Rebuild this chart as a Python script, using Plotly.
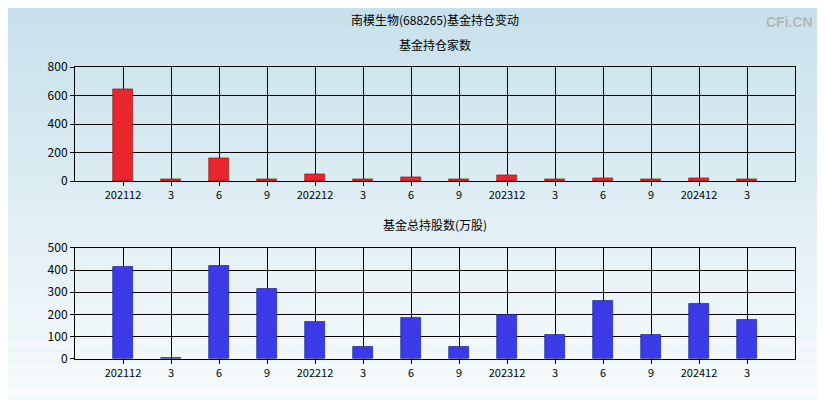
import plotly.graph_objects as go
from plotly.subplots import make_subplots

labels = ["202112", "3", "6", "9", "202212", "3", "6", "9", "202312", "3", "6", "9", "202412", "3"]
holders = [645, 12, 160, 12, 48, 12, 30, 12, 45, 12, 22, 12, 22, 12]
shares = [415, 3, 420, 315, 165, 55, 185, 55, 198, 108, 262, 108, 248, 175]

xs = list(range(1, len(labels) + 1))

fig = make_subplots(rows=2, cols=1)
fig.add_trace(go.Bar(x=xs, y=holders, width=0.42, marker=dict(color="#e8262b", line=dict(color="#7a1010", width=0.6))), row=1, col=1)
fig.add_trace(go.Bar(x=xs, y=shares, width=0.42, marker=dict(color="#3a3ae8", line=dict(color="#15157a", width=0.6))), row=2, col=1)

fig.update_xaxes(range=[0, 15], tickmode="array", tickvals=xs, ticktext=labels, showgrid=True, gridcolor="black",
                 showline=True, linecolor="black", mirror=True, ticks="outside", ticklen=4, tickcolor="black",
                 tickfont=dict(size=11, color="black"), zeroline=False)
fig.update_yaxes(showgrid=True, gridcolor="black", showline=True, linecolor="black", mirror=True,
                 ticks="outside", ticklen=4, tickcolor="black", tickfont=dict(size=12, color="black"), zeroline=False)
fig.update_yaxes(range=[0, 800], dtick=200, domain=[0.574, 0.8715], row=1, col=1)
fig.update_yaxes(range=[0, 500], dtick=100, domain=[0.11, 0.40], row=2, col=1)

# background gradient
shapes = []
n = 40
for i in range(n):
    t = i / (n - 1)
    r = int(196 + (255 - 196) * t)
    g = int(224 + (255 - 224) * t)
    b = int(235 + (255 - 235) * t)
    shapes.append(dict(type="rect", xref="paper", yref="paper", x0=-0.3, x1=1.3,
                       y0=1.1 - (i + 1) * 1.25 / n, y1=1.1 - i * 1.25 / n,
                       fillcolor=f"rgb({r},{g},{b})", line=dict(width=0), layer="below"))

fig.update_layout(
    width=825, height=400, showlegend=False, bargap=0,
    margin=dict(l=67, r=38, t=0, b=0),
    paper_bgcolor="#c4e0eb", plot_bgcolor="rgba(0,0,0,0)",
    font=dict(family="Noto Sans CJK SC", color="black"),
    shapes=shapes,
    annotations=[
        dict(text="南模生物(688265)基金持仓变动", x=0.5, y=0.996, yanchor="middle", xref="paper", yref="paper", showarrow=False, font=dict(size=12)),
        dict(text="基金持仓家数", x=0.5, y=0.931, yanchor="middle", xref="paper", yref="paper", showarrow=False, font=dict(size=12)),
        dict(text="基金总持股数(万股)", x=0.5, y=0.46, yanchor="middle", xref="paper", yref="paper", showarrow=False, font=dict(size=12)),
        dict(text="<b>CFi.CN</b>", x=1.028, y=0.99, xref="paper", yref="paper", xanchor="right", yanchor="middle", showarrow=False,
             font=dict(size=14, color="#b0b8bc", family="Arial")),
    ],
)
fig.write_html("out.html")
